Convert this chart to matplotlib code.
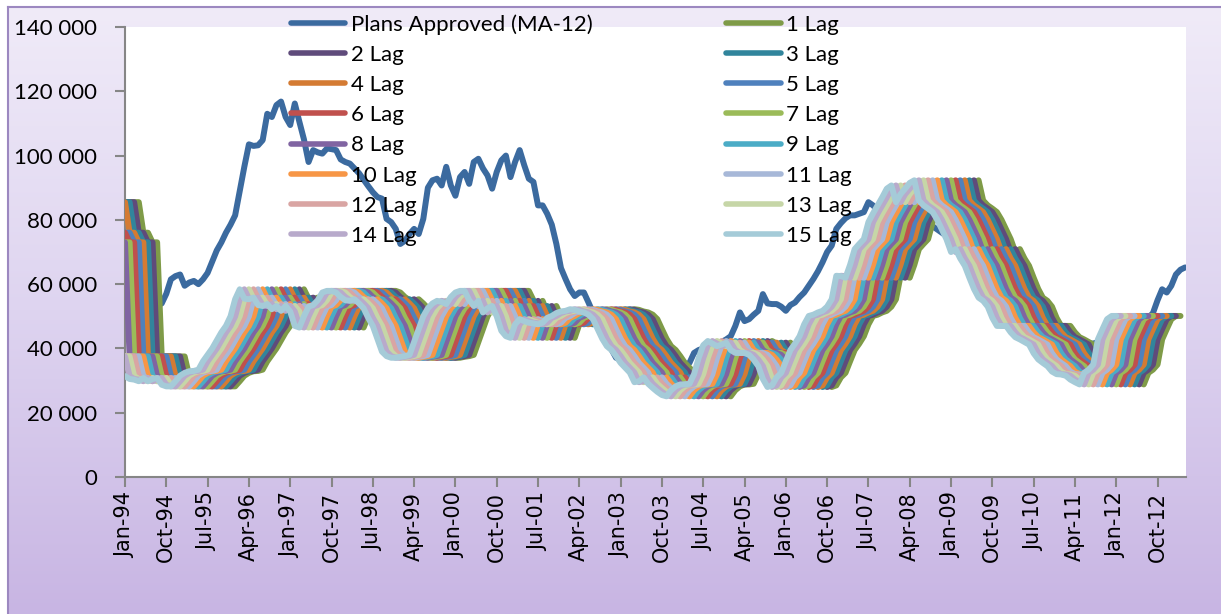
import numpy as np
import matplotlib
matplotlib.use("Agg")
import matplotlib.pyplot as plt
from matplotlib.lines import Line2D
from matplotlib.colors import LinearSegmentedColormap

# ---------------- data (thousands) ----------------
# Plans Approved (MA-12), monthly Jan-94 .. Apr-13
plans = [
    48.5, 49.5, 50.5, 51.5, 52.0, 52.5, 53.0, 53.5, 54.0, 57.0, 61.5, 62.5,
    63.0, 59.5, 60.5, 61.0, 60.0, 61.5, 63.5, 67.0, 70.5, 73.0, 76.0, 78.5,
    81.4, 89.0, 96.5, 103.5, 103.0, 103.2, 104.8, 113.0, 112.0, 115.7, 116.8, 112.0,
    109.5, 116.2, 110.5, 105.0, 98.0, 101.7, 101.0, 100.6, 102.2, 102.0, 101.7, 98.8,
    98.0, 97.5, 96.0, 94.5, 92.5, 90.5, 88.6, 87.1, 86.6, 80.3, 79.3, 77.2,
    72.5, 73.5, 75.6, 77.2, 75.6, 80.3, 90.0, 92.3, 92.8, 90.7, 96.5, 90.7,
    87.5, 93.3, 94.9, 91.2, 98.0, 99.0, 96.0, 93.8, 89.7, 94.9, 98.5, 100.0,
    93.3, 98.0, 101.7, 97.0, 92.8, 91.8, 84.5, 84.5, 81.9, 78.5, 72.5, 65.0,
    61.6, 58.4, 56.3, 57.4, 57.4, 54.3, 51.0, 47.0, 43.8, 41.5, 39.7, 37.1,
    36.6, 36.0, 35.0, 34.0, 33.5, 33.0, 32.5, 32.5, 32.5, 33.0, 33.5, 34.0,
    34.5, 35.0, 35.0, 35.5, 38.6, 39.5, 40.0, 40.5, 41.0, 41.5, 42.0, 42.8,
    43.8, 47.0, 51.2, 48.5, 49.1, 50.5, 51.7, 56.9, 54.0, 53.8, 53.8, 53.0,
    51.7, 53.5, 54.3, 56.0, 57.4, 59.5, 61.6, 64.0, 66.8, 70.0, 72.0, 77.2,
    79.0, 80.5, 81.4, 81.4, 81.9, 82.4, 85.5, 84.5, 83.0, 83.5, 84.0, 83.0,
    82.5, 82.0, 81.5, 81.0, 80.5, 80.0, 79.0, 78.5, 78.0, 77.0, 76.0, 75.0,
    74.0, 72.0, 70.0, 68.0, 66.0, 64.0, 62.0, 60.0, 58.0, 56.0, 54.0, 52.0,
    50.5, 49.0, 48.0, 47.0, 46.0, 45.0, 44.0, 43.0, 42.0, 41.5, 41.0, 40.5,
    40.0, 40.0, 40.0, 40.5, 41.0, 41.0, 41.5, 41.5, 42.0, 42.5, 43.5, 44.5,
    45.5, 46.0, 46.5, 47.0, 47.5, 48.0, 48.5, 49.5, 51.0, 55.0, 58.4, 57.4,
    59.5, 63.0, 64.5, 65.2,
]

# leading indicator: values seen by lags 1..14 at Jan-94
lag_head = [85.5, 85.5, 85.5, 85.5, 76.0, 76.0, 73.0, 73.0,
            37.5, 37.5, 37.5, 37.5, 37.5, 37.5]

# path of "15 Lag" (Jan-94 onwards); k Lag is the same indicator k months ahead
lag15_path = [
    31.4, 30.5, 30.3, 29.8, 30.8, 29.8, 30.5, 30.8, 28.7, 28.2, 28.2, 29.8,
    31.5, 32.4, 32.9, 33.0, 33.4, 36.0, 38.0, 40.0, 42.5, 45.0, 47.0, 50.0,
    55.3, 58.4, 55.5, 55.3, 55.8, 53.5, 53.2, 53.8, 52.2, 53.2, 51.7, 53.2,
    51.5, 47.0, 46.5, 50.0, 53.0, 53.5, 55.0, 57.4, 57.9, 57.9, 57.4, 56.0,
    55.0, 54.8, 55.3, 54.0, 52.5, 49.5, 47.0, 43.0, 39.0, 37.6, 37.1, 37.1,
    37.4, 37.6, 38.0, 42.0, 46.0, 50.0, 52.5, 54.0, 54.8, 54.5, 53.8, 56.0,
    57.4, 57.9, 57.9, 55.0, 53.2, 54.8, 51.2, 52.5, 53.2, 50.0, 45.5, 43.8,
    43.3, 47.5, 49.1, 48.5, 48.0, 47.8, 47.5, 48.0, 49.5, 50.1, 51.0, 51.5,
    51.7, 52.2, 52.0, 51.5, 51.2, 50.5, 49.1, 46.0, 43.0, 40.7, 39.5, 37.6,
    35.5, 34.0, 32.5, 29.5, 29.8, 31.0, 29.0, 27.7, 26.5, 25.5, 25.1, 27.0,
    28.2, 28.8, 28.8, 29.0, 32.0, 37.0, 41.0, 42.3, 41.5, 40.7, 41.2, 41.8,
    39.5, 38.6, 38.6, 38.6, 38.0, 36.5, 34.5, 30.5, 28.0, 28.5, 31.0, 32.4,
    36.0, 39.5, 41.5, 43.8, 47.5, 50.1, 50.5, 51.2, 51.7, 53.0, 55.3, 62.6,
    62.5, 62.0, 66.0, 70.9, 72.5, 74.0, 79.3, 82.0, 84.5, 87.0, 89.7, 90.7,
    85.5, 88.0, 89.7, 91.5, 92.3, 86.0, 84.5, 83.5, 82.4, 80.0, 77.0, 74.0,
    70.0, 70.9, 68.0, 65.7, 62.0, 58.5, 55.8, 54.8, 53.0, 49.5, 47.0, 47.0,
    47.0, 45.0, 43.5, 42.8, 42.0, 41.2, 38.5, 36.6, 35.5, 34.5, 32.8, 32.0,
    31.9, 31.5, 30.3, 29.5, 28.8, 32.4, 33.4, 35.0, 42.8, 46.0, 49.1, 50.1,
    50.1,
]

lag_names = ["%d Lag" % k for k in range(1, 16)]
tick_labels = ["Jan-94", "Oct-94", "Jul-95", "Apr-96", "Jan-97", "Oct-97", "Jul-98",
               "Apr-99", "Jan-00", "Oct-00", "Jul-01", "Apr-02", "Jan-03", "Oct-03",
               "Jul-04", "Apr-05", "Jan-06", "Oct-06", "Jul-07", "Apr-08", "Jan-09",
               "Oct-09", "Jul-10", "Apr-11", "Jan-12", "Oct-12"]
y_ticks = [0, 20000, 40000, 60000, 80000, 100000, 120000, 140000]
y_labels = ["0", "20 000", "40 000", "60 000", "80 000", "100 000", "120 000", "140 000"]

plans_color = "#3B6A9F"
lag_colors = ["#7F9B48", "#5F4B7B", "#31859C", "#D47B33", "#4F81BD",
              "#C0504D", "#9BBB59", "#8064A2", "#4BACC6", "#F79646",
              "#A7B8D8", "#D9A5A3", "#C6D6A7", "#B8AACB", "#A5CBD8"]

# ---------------- figure ----------------
W, H = 1221, 614
fig = plt.figure(figsize=(W / 100, H / 100), dpi=100)
fig.patch.set_facecolor("white")

bg = fig.add_axes([8 / W, 0, 1 - 8 / W, (H - 7) / H], zorder=-10)
cmap = LinearSegmentedColormap.from_list("bg", ["#F0EBF8", "#DED4F0", "#C8B5E3"])
bg.imshow(np.linspace(0, 1, 256).reshape(-1, 1), aspect="auto", cmap=cmap,
          extent=[0, 1, 0, 1], origin="upper")
bg.axis("off")
fig.add_artist(Line2D([8 / W, 8 / W], [0, (H - 7) / H], color="#9C88C0", lw=1.5))
fig.add_artist(Line2D([8 / W, 1], [(H - 7) / H, (H - 7) / H], color="#9C88C0", lw=1.5))

ax = fig.add_axes([125 / W, (H - 477) / H, (1186 - 125) / W, 450 / H])
ax.set_facecolor("white")

x_plans = np.arange(len(plans))
handles = []
h, = ax.plot(x_plans, np.array(plans) * 1000, color=plans_color, lw=4.3,
             solid_joinstyle="round", solid_capstyle="round", zorder=2)
handles.append(h)

base = np.array(lag_head + lag15_path) * 1000.0
for k in range(1, 16):
    yk = base[k - 1:]
    xk = np.arange(len(yk))
    h, = ax.plot(xk, yk, color=lag_colors[k - 1], lw=4.3,
                 solid_joinstyle="round", solid_capstyle="round", zorder=3)
    handles.append(h)

ax.set_xlim(0, 231.2)
ax.set_ylim(0, 140000)
for s in ["top", "right"]:
    ax.spines[s].set_visible(False)
for s in ["left", "bottom"]:
    ax.spines[s].set_color("#868686")
    ax.spines[s].set_linewidth(1.5)

ax.set_xticks(np.arange(0, 9 * len(tick_labels), 9))
ax.set_xticklabels(tick_labels, rotation=90, fontsize=15, family="DejaVu Sans")
ax.set_yticks(y_ticks)
ax.set_yticklabels(y_labels, fontsize=16, family="Lato")
ax.tick_params(axis="x", length=7, width=1.5, color="#868686", pad=4)
ax.tick_params(axis="y", length=7, width=1.5, color="#868686", pad=13)

all_labels = ["Plans Approved (MA-12)"] + lag_names
order = [0, 2, 4, 6, 8, 10, 12, 14, 1, 3, 5, 7, 9, 11, 13, 15]
leg = fig.legend([handles[i] for i in order], [all_labels[i] for i in order],
                 ncol=2, loc="upper left", bbox_to_anchor=(291 / W, (H - 14) / H),
                 frameon=False, prop={"family": "Lato", "size": 16},
                 handlelength=2.45, handletextpad=0.25, columnspacing=6.0,
                 labelspacing=0.46, borderpad=0, borderaxespad=0)
for lh in leg.get_lines():
    lh.set_linewidth(4.0)
    lh.set_solid_capstyle("round")

fig.savefig("out.png", dpi=100)
